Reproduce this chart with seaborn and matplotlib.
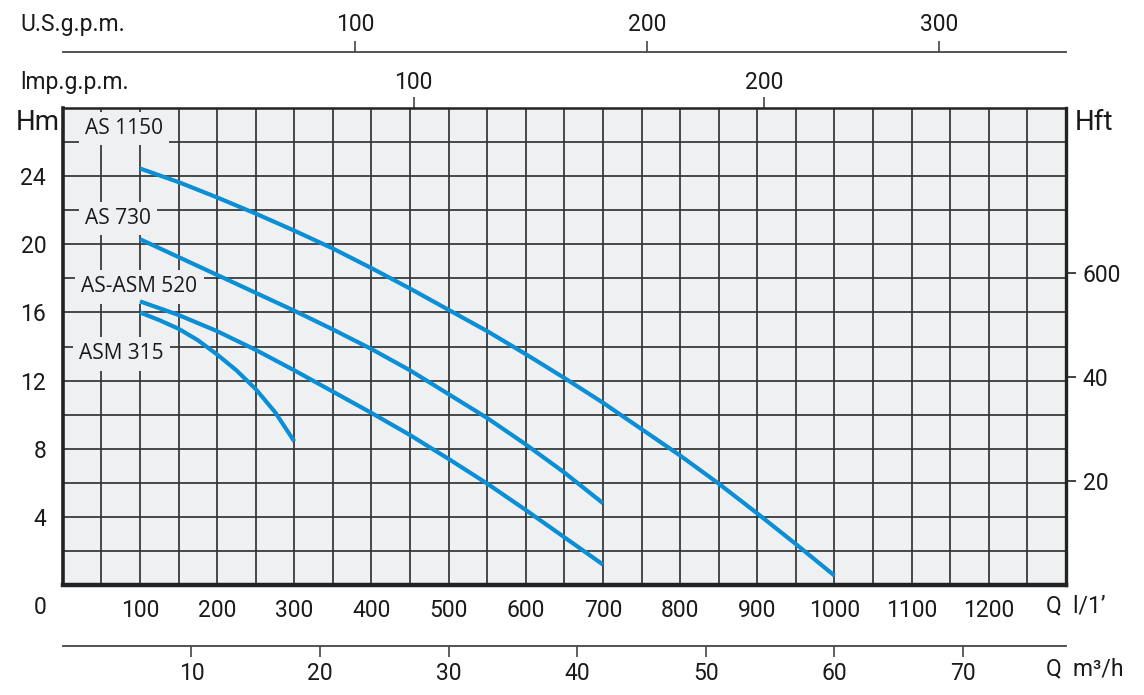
import numpy as np
import pandas as pd
import matplotlib
matplotlib.use("Agg")
import matplotlib.pyplot as plt
import seaborn as sns

# ---------------- data ----------------
models = ["AS 1150", "AS 730", "AS-ASM 520", "ASM 315"]

q_as1150 = [100, 150, 200, 250, 300, 350, 400, 450, 500, 550, 600, 650, 700, 750, 800, 850, 900, 950, 1000]
h_as1150 = [24.45, 23.65, 22.75, 21.8, 20.8, 19.75, 18.6, 17.4, 16.15, 14.9, 13.55, 12.15, 10.7, 9.15, 7.6, 5.95, 4.2, 2.4, 0.55]

q_as730 = [100, 150, 200, 250, 300, 350, 400, 450, 500, 550, 600, 650, 700]
h_as730 = [20.3, 19.25, 18.2, 17.15, 16.1, 15.0, 13.85, 12.6, 11.2, 9.8, 8.25, 6.6, 4.8]

q_as520 = [100, 150, 200, 250, 300, 350, 400, 450, 500, 550, 600, 650, 700]
h_as520 = [16.65, 15.85, 14.9, 13.8, 12.6, 11.35, 10.1, 8.8, 7.4, 5.95, 4.4, 2.8, 1.2]

q_asm315 = [100, 125, 150, 175, 200, 225, 250, 275, 300]
h_asm315 = [16.0, 15.55, 15.04, 14.37, 13.53, 12.6, 11.5, 10.15, 8.43]

q_ticks = [100, 200, 300, 400, 500, 600, 700, 800, 900, 1000, 1100, 1200]
h_ticks = [4, 8, 12, 16, 20, 24]
ft_ticks = [20, 40, 60]
ft_labels = ["20", "40", "600"]
usgpm_ticks = [100, 200, 300]
impgpm_ticks = [100, 200]
m3h_ticks = [10, 20, 30, 40, 50, 60, 70]

# label anchor points (l/min, m)
label_q = [29, 29, 24, 21]
label_h = [26.47, 21.18, 17.18, 13.24]

# ---------------- style ----------------
sns.set_style("white")
plt.rcParams["font.family"] = ["Roboto", "DejaVu Sans"]

W, H = 1144, 695
BG = "#eff0f2"
GRID = "#333333"
BLUE = "#0a8fd6"
TXT = "#1a1a1a"
FS = 16.5

fig = plt.figure(figsize=(W / 100, H / 100), dpi=100)
ax = fig.add_axes([62.8 / W, (H - 585) / H, (1066 - 62.8) / W, 477 / H])
ax.set_facecolor(BG)

df = pd.concat([
    pd.DataFrame({"model": m, "q": q, "h": h})
    for m, q, h in zip(models, [q_as1150, q_as730, q_as520, q_asm315],
                       [h_as1150, h_as730, h_as520, h_asm315])
])

sns.lineplot(data=df, x="q", y="h", hue="model", units="model", estimator=None,
             palette={m: BLUE for m in models}, legend=False, ax=ax,
             lw=3.0, zorder=5, solid_capstyle="butt", solid_joinstyle="round")

ax.set_xlim(0, 1300)
ax.set_ylim(0, 28)
ax.set_xlabel("")
ax.set_ylabel("")

ax.set_xticks(q_ticks)
ax.set_yticks(h_ticks)
ax.set_xticks(np.arange(50, 1300, 50), minor=True)
ax.set_yticks(np.arange(2, 28, 2), minor=True)
ax.grid(which="both", color=GRID, lw=1.25)
ax.set_axisbelow(True)
ax.tick_params(which="both", length=0, labelsize=FS, labelcolor=TXT)
ax.tick_params(axis="x", pad=10)
ax.tick_params(axis="y", pad=12)

for side, lw in [("left", 2.6), ("bottom", 3.2), ("top", 1.8), ("right", 2.4)]:
    ax.spines[side].set_visible(True)
    ax.spines[side].set_color("#222222")
    ax.spines[side].set_linewidth(lw)

# model labels
for name, lq, lh in zip(models, label_q, label_h):
    ax.text(lq, lh, name, fontsize=15, family=["Open Sans", "DejaVu Sans"],
            fontweight="medium", color=TXT, ha="left", va="baseline", zorder=3,
            bbox=dict(boxstyle="square,pad=0.3", fc=BG, ec="none"))

# secondary axes
imp = ax.secondary_xaxis("top", functions=(lambda q: q / 4.54609, lambda g: g * 4.54609))
imp.set_xticks(impgpm_ticks)
imp.tick_params(direction="out", length=8, width=1.2, pad=2, labelsize=FS, labelcolor=TXT, color="#444444")
imp.spines["top"].set_visible(False)

us = ax.secondary_xaxis((585 - 51.7) / 477, functions=(lambda q: q / 3.78541, lambda g: g * 3.78541))
us.set_xticks(usgpm_ticks)
us.tick_params(direction="out", length=8, width=1.2, pad=3, labelsize=FS, labelcolor=TXT, color="#444444")
us.spines["top"].set_color("#444444")
us.spines["top"].set_linewidth(1.3)

m3 = ax.secondary_xaxis(-(645.7 - 585) / 477, functions=(lambda q: q * 0.06, lambda m: m / 0.06))
m3.set_xticks(m3h_ticks)
m3.tick_params(direction="out", length=8, width=1.2, pad=4, labelsize=FS, labelcolor=TXT, color="#444444")
m3.spines["bottom"].set_color("#444444")
m3.spines["bottom"].set_linewidth(1.3)

ft = ax.secondary_yaxis("right", functions=(lambda m: m / 0.3048, lambda f: f * 0.3048))
ft.set_yticks(ft_ticks, labels=ft_labels)
ft.tick_params(direction="out", length=7, width=1.2, pad=5, labelsize=FS, labelcolor=TXT, color="#222222")
ft.spines["right"].set_visible(False)

def ftext(x, y, s, **kw):
    fig.text(x / W, 1 - y / H, s, color=TXT, **kw)

ftext(20, 25, "U.S.g.p.m.", fontsize=FS, ha="left", va="center")
ftext(20, 82, "lmp.g.p.m.", fontsize=FS, ha="left", va="center")
ftext(16, 123, "Hm", fontsize=20, ha="left", va="center")
ftext(1075, 123, "Hft", fontsize=20, ha="left", va="center")
ftext(40, 607, "0", fontsize=FS, ha="center", va="center")
ftext(1046, 606, "Q  l/1\u2019", fontsize=FS, ha="left", va="center")
ftext(1046, 669, "Q  m\u00b3/h", fontsize=FS, ha="left", va="center")

fig.savefig("out.png", dpi=100, facecolor="white")
